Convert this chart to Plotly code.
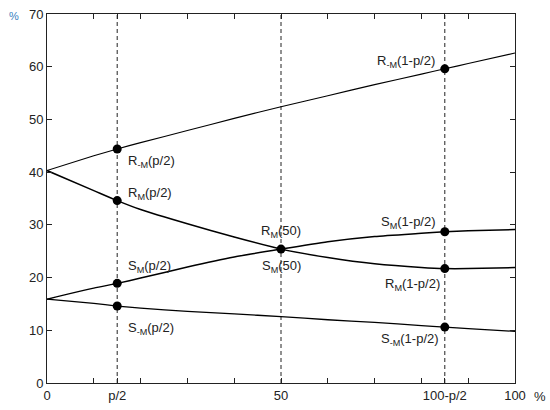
import plotly.graph_objects as go

# ---- data ----
x_pos = [0, 10, 15, 20, 30, 40, 50, 60, 70, 80, 85, 90, 100]
r_minus_m = [40.3, 43.1, 44.4, 45.6, 47.9, 50.2, 52.4, 54.5, 56.6, 58.6, 59.6, 60.6, 62.6]
r_m = [40.3, 36.5, 34.6, 32.9, 30.2, 27.7, 25.4, 23.8, 22.6, 21.9, 21.7, 21.7, 21.9]
s_m = [15.9, 18.0, 18.9, 19.9, 22.0, 23.9, 25.4, 26.8, 27.8, 28.4, 28.7, 28.9, 29.1]
s_minus_m = [15.9, 15.1, 14.6, 14.2, 13.6, 13.1, 12.6, 12.0, 11.5, 10.9, 10.6, 10.3, 9.8]

marker_x = [15, 15, 15, 15, 50, 85, 85, 85, 85]
marker_y = [44.4, 34.6, 18.9, 14.6, 25.4, 59.6, 28.7, 21.7, 10.6]

guide_x = [15, 50, 85]

x_tick_vals = [0, 15, 50, 85, 100]
x_tick_text = ["0", "p/2", "50", "100-p/2", "100"]
minor_x = [10, 20, 30, 40, 60, 70, 80, 90]
y_tick_vals = [0, 10, 20, 30, 40, 50, 60, 70]

labels = [
    ("R<sub>-M</sub>(p/2)", 16.9, 42.0, "left"),
    ("R<sub>M</sub>(p/2)", 16.9, 35.9, "left"),
    ("S<sub>M</sub>(p/2)", 16.9, 22.1, "left"),
    ("S<sub>-M</sub>(p/2)", 16.9, 10.3, "left"),
    ("R<sub>M</sub>(50)", 50.0, 28.7, "center"),
    ("S<sub>M</sub>(50)", 50.0, 22.1, "center"),
    ("R<sub>-M</sub>(1-p/2)", 83.3, 61.0, "right"),
    ("S<sub>M</sub>(1-p/2)", 83.6, 30.5, "right"),
    ("R<sub>M</sub>(1-p/2)", 84.3, 18.7, "right"),
    ("S<sub>-M</sub>(1-p/2)", 84.1, 8.2, "right"),
]

FONT = "Liberation Sans, Arial, sans-serif"

fig = go.Figure()

for gx in guide_x:
    fig.add_trace(go.Scatter(x=[gx, gx], y=[0, 70], mode="lines",
                             line=dict(color="#222", width=1, dash="4px,3px"),
                             hoverinfo="skip", showlegend=False))

for ys, w in [(r_minus_m, 1.1), (r_m, 1.5), (s_m, 1.5), (s_minus_m, 1.3)]:
    fig.add_trace(go.Scatter(x=x_pos, y=ys, mode="lines",
                             line=dict(color="black", width=w, shape="spline", smoothing=0.6),
                             showlegend=False))

fig.add_trace(go.Scatter(x=marker_x, y=marker_y, mode="markers",
                         marker=dict(color="black", size=9), showlegend=False))

for text, lx, ly, anchor in labels:
    fig.add_annotation(x=lx, y=ly, text=text, showarrow=False, xanchor=anchor,
                       yanchor="middle", font=dict(family=FONT, size=13, color="#222"))

fig.add_annotation(xref="paper", yref="paper", x=1.0, y=0, xshift=17, yshift=-13,
                   text="%", showarrow=False, xanchor="left", yanchor="middle",
                   font=dict(family=FONT, size=13, color="#222"))
fig.add_annotation(xref="paper", yref="paper", x=0, y=1, xshift=-40, yshift=-2,
                   text="%", showarrow=False, xanchor="left", yanchor="middle",
                   font=dict(family=FONT, size=11, color="#3a7fc0"))

fig.update_xaxes(range=[0, 100], tickvals=x_tick_vals, ticktext=x_tick_text,
                 ticks="inside", ticklen=5, tickcolor="#222", showline=True,
                 linecolor="#222", linewidth=1, mirror="ticks", showgrid=False,
                 zeroline=False, tickfont=dict(family=FONT, size=13, color="#222"),
                 minor=dict(tickvals=minor_x, ticks="inside", ticklen=5, tickcolor="#222"))
fig.update_yaxes(range=[0, 70], tickvals=y_tick_vals, ticks="inside", ticklen=5,
                 tickcolor="#222", showline=True, linecolor="#222", linewidth=1,
                 mirror="ticks", showgrid=False, zeroline=False,
                 tickfont=dict(family=FONT, size=13, color="#222"))

fig.update_layout(width=550, height=410, plot_bgcolor="white", paper_bgcolor="white",
                  margin=dict(l=47, r=35, t=14, b=27, autoexpand=False), showlegend=False)

fig.write_html("out.html", config={"displayModeBar": False},
               post_script="document.body.style.margin='0';document.body.style.overflow='hidden';")
